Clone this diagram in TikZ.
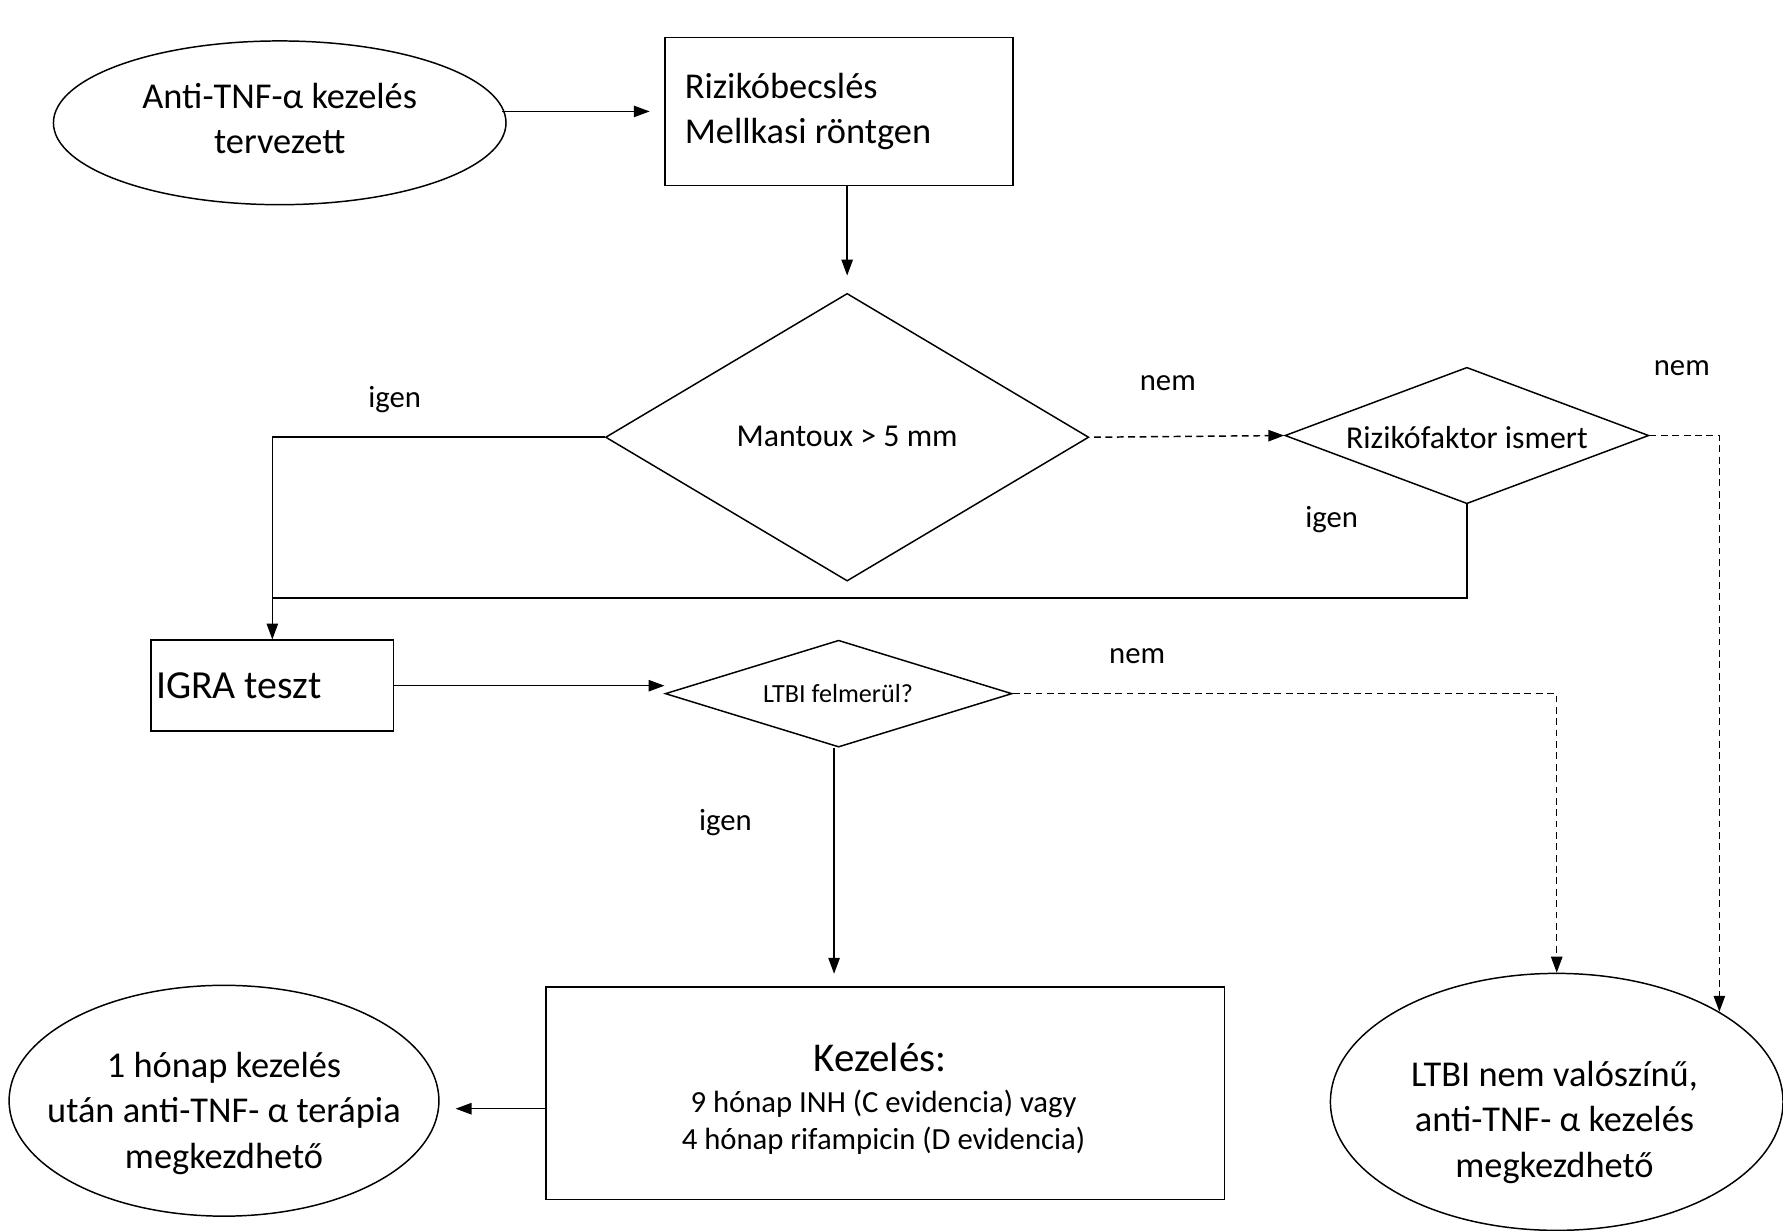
\documentclass[tikz,border=0pt]{standalone}
\usepackage{fontspec}
\setmainfont{Carlito}
\usetikzlibrary{shapes.geometric,arrows.meta}
\begin{document}
\begin{tikzpicture}[x=1pt,y=-1pt,
  every node/.style={inner sep=0pt, font=\fontsize{32}{40}\selectfont},
  line/.style={line width=1.3pt},
  arr/.style={line, -{Triangle[length=14pt,width=10pt]}},
  dsh/.style={dash pattern=on 6pt off 4pt},
  box/.style={draw, line width=1.3pt, rectangle},
  ell/.style={draw, line width=1.3pt, ellipse},
  dia/.style={draw, line width=1.3pt, diamond},
  lbl/.style={font=\fontsize{27}{32}\selectfont},
  txt/.style={align=center}]
\useasboundingbox (0,0) rectangle (1568,1082);

% shapes
\node[ell, minimum width=398pt, minimum height=144pt] (start) at (246,108) {};
\node[txt] (startT) at (246,104) {Anti-TNF-α kezelés\\tervezett};

\node[box, minimum width=306pt, minimum height=130pt] (risk) at (738,98) {};
\node[anchor=west, align=left] (riskT) at (602,98) {Rizikóbecslés\\Mellkasi röntgen};

\node[dia, minimum width=425pt, minimum height=253pt] (mant) at (745,384.5) {};
\node[font=\fontsize{28}{34}\selectfont] (mantT) at (745,384) {Mantoux > 5 mm};
\node[dia, minimum width=320pt, minimum height=120pt] (rf) at (1290,383) {};
\node[font=\fontsize{28}{34}\selectfont] (rfT) at (1290,385) {Rizikófaktor ismert};

\node[box, minimum width=213pt, minimum height=80pt] (igra) at (239.5,603) {};
\node[anchor=west, font=\fontsize{35}{42}\selectfont] (igraT) at (137,603) {IGRA teszt};

\node[dia, minimum width=305pt, minimum height=94pt] (ltbi) at (737.5,610) {};
\node[font=\fontsize{23}{28}\selectfont] (ltbiT) at (737,610) {LTBI felmerül?};

\node[box, minimum width=597pt, minimum height=187pt] (kez) at (778.5,961.5) {};
\node[font=\fontsize{36}{42}\selectfont] (kezT) at (774,930) {Kezelés:};
\node[txt, font=\fontsize{27}{32}\selectfont] (kezL) at (777,987) {9 hónap INH (C evidencia) vagy\\4 hónap rifampicin (D evidencia)};

\node[ell, minimum width=378pt, minimum height=203pt] (done) at (197,968) {};
\node[txt] (doneT) at (197,979) {1 hónap kezelés\\után anti-TNF- α terápia\\megkezdhető};

\node[ell, minimum width=398pt, minimum height=226pt] (ltbiNo) at (1369,969) {};
\node[txt] (ltbiNoT) at (1367,987) {LTBI nem valószínű,\\anti-TNF- α kezelés\\megkezdhető};

% labels
\node[lbl] (l1) at (1027,337) {nem};
\node[lbl] (l2) at (1479,324) {nem};
\node[lbl] (l3) at (347,351) {igen};
\node[lbl] (l4) at (1171,457) {igen};
\node[lbl] (l5) at (1000,577) {nem};
\node[lbl] (l6) at (638,723) {igen};

% connectors
\draw[arr, shorten >=13pt, shorten <=-4pt] (start.east |- risk.west) -- (risk.west);
\draw[arr, shorten >=15pt] (risk.south -| mant.north) -- (mant.north);
\draw[arr, dsh] ([xshift=4pt]mant.east) -- (rf.west);
\draw[arr] (mant.west) -| (igra.north);
\coordinate (join) at (igra.north |- 0,526);
\draw[line] (rf.south) |- (join);
\draw[arr, dsh] (rf.east) -| (ltbiNo.29);
\draw[arr] (igra.east) -- (igra.east -| ltbi.west);
\draw[arr, dsh] (ltbi.east) -| (ltbiNo.north);
\draw[arr, shorten >=11pt] ([xshift=-4pt]ltbi.south) -- ([xshift=-4pt]ltbi.south |- kez.north);
\coordinate (kw) at (kez.west |- 0,975);
\draw[arr, shorten >=14pt] (kw) -- (kw -| done.east);
\end{tikzpicture}
\end{document}
